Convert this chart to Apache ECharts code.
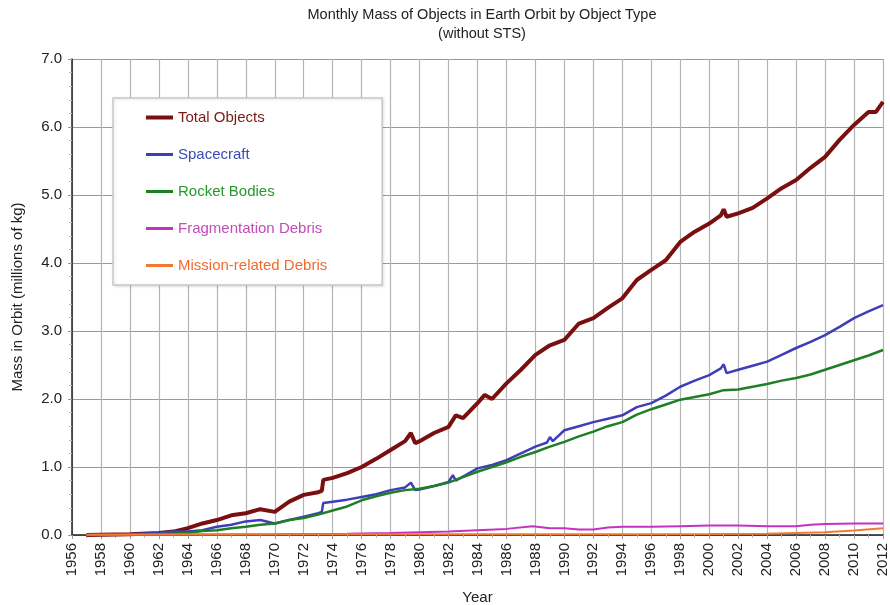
<!DOCTYPE html>
<html>
<head>
<meta charset="utf-8">
<title>Monthly Mass of Objects in Earth Orbit</title>
<script src="https://cdn.jsdelivr.net/npm/echarts@6/dist/echarts.min.js"></script>
<style>
  html, body { margin: 0; padding: 0; background: #fff; }
  #chart { width: 890px; height: 605px; }
</style>
</head>
<body>
<div id="chart"></div>
<script>
// values, [year, millions of kg]
var totalObjects = [
  [1957, 0], [1958, 0.005], [1960, 0.01], [1962, 0.03], [1963, 0.05], [1964, 0.10], [1965, 0.17],
  [1966, 0.22], [1967, 0.29], [1968, 0.32], [1969, 0.38], [1970, 0.34], [1971, 0.49], [1972, 0.59],
  [1973, 0.63], [1973.25, 0.65], [1973.35, 0.81], [1974, 0.84], [1975, 0.91], [1976, 1.0], [1977, 1.12],
  [1978, 1.25], [1979, 1.38], [1979.4, 1.50], [1979.7, 1.35], [1980, 1.38], [1981, 1.5], [1982, 1.59],
  [1982.5, 1.76], [1983, 1.72], [1984, 1.94], [1984.5, 2.06], [1985, 2.0], [1986, 2.23], [1987, 2.43],
  [1988, 2.65], [1989, 2.79], [1990, 2.87], [1991, 3.11], [1992, 3.19], [1993, 3.34], [1994, 3.48],
  [1995, 3.75], [1996, 3.9], [1997, 4.04], [1998, 4.31], [1999, 4.46], [2000, 4.58], [2000.8, 4.70],
  [2001, 4.79], [2001.2, 4.68], [2002, 4.73], [2003, 4.81], [2004, 4.95], [2005, 5.10], [2006, 5.22],
  [2007, 5.40], [2008, 5.56], [2009, 5.81], [2010, 6.03], [2011, 6.22], [2011.5, 6.22], [2012, 6.37]
];
var spacecraft = [
  [1957, 0], [1960, 0.01], [1962, 0.03], [1963, 0.05], [1964, 0.05], [1965, 0.07], [1966, 0.12],
  [1967, 0.15], [1968, 0.20], [1969, 0.22], [1970, 0.17], [1971, 0.22], [1972, 0.27], [1973, 0.32],
  [1973.25, 0.34], [1973.35, 0.47], [1974, 0.49], [1975, 0.52], [1976, 0.56], [1977, 0.6], [1978, 0.66],
  [1979, 0.70], [1979.4, 0.77], [1979.7, 0.66], [1980, 0.67], [1981, 0.72], [1982, 0.78], [1982.3, 0.88],
  [1982.5, 0.80], [1983, 0.86], [1984, 0.98], [1985, 1.03], [1986, 1.10], [1987, 1.2], [1988, 1.30],
  [1988.8, 1.36], [1989, 1.44], [1989.2, 1.38], [1990, 1.54], [1991, 1.60], [1992, 1.66], [1993, 1.71],
  [1994, 1.76], [1995, 1.88], [1996, 1.94], [1997, 2.05], [1998, 2.18], [1999, 2.27], [2000, 2.35],
  [2000.8, 2.45], [2001, 2.51], [2001.2, 2.38], [2002, 2.43], [2003, 2.49], [2004, 2.55], [2005, 2.65],
  [2006, 2.75], [2007, 2.84], [2008, 2.94], [2009, 3.06], [2010, 3.19], [2011, 3.29], [2012, 3.38]
];
var rocketBodies = [
  [1957, 0], [1960, 0.005], [1962, 0.01], [1963, 0.02], [1964, 0.03], [1965, 0.06], [1966, 0.07],
  [1967, 0.10], [1968, 0.12], [1969, 0.15], [1970, 0.17], [1971, 0.22], [1972, 0.25], [1973, 0.30],
  [1974, 0.36], [1975, 0.42], [1976, 0.51], [1977, 0.57], [1978, 0.62], [1979, 0.66], [1980, 0.68],
  [1981, 0.72], [1982, 0.77], [1983, 0.85], [1984, 0.93], [1985, 1.0], [1986, 1.07], [1987, 1.15],
  [1988, 1.22], [1989, 1.30], [1990, 1.37], [1991, 1.45], [1992, 1.52], [1993, 1.6], [1994, 1.66],
  [1995, 1.77], [1996, 1.85], [1997, 1.92], [1998, 1.99], [1999, 2.03], [2000, 2.07], [2001, 2.13],
  [2002, 2.14], [2003, 2.18], [2004, 2.22], [2005, 2.27], [2006, 2.31], [2007, 2.36], [2008, 2.43],
  [2009, 2.5], [2010, 2.57], [2011, 2.64], [2012, 2.72]
];
var fragmentationDebris = [
  [1957, 0], [1961, 0.002], [1965, 0.005], [1970, 0.01], [1975, 0.02], [1978, 0.03], [1980, 0.04],
  [1982, 0.05], [1984, 0.07], [1986, 0.09], [1987.8, 0.13], [1989, 0.10], [1990, 0.10], [1991, 0.08],
  [1992, 0.08], [1993, 0.11], [1994, 0.12], [1996, 0.12], [1998, 0.13], [2000, 0.14], [2002, 0.14],
  [2004, 0.13], [2006, 0.13], [2007, 0.15], [2008, 0.16], [2010, 0.17], [2012, 0.17]
];
var missionDebris = [
  [1957, 0.005], [1965, 0.01], [1975, 0.01], [1985, 0.012], [1995, 0.012], [2000, 0.015],
  [2004, 0.02], [2006, 0.03], [2008, 0.04], [2010, 0.065], [2012, 0.10]
];

var seriesNames = ['Total Objects', 'Spacecraft', 'Rocket Bodies', 'Fragmentation Debris', 'Mission-related Debris'];
var seriesData = [totalObjects, spacecraft, rocketBodies, fragmentationDebris, missionDebris];
var lineColors = ['#7a0f0f', '#3e3eb8', '#1f7f24', '#c433c0', '#f07a32'];
var textColors = ['#7a1a12', '#3a4cb0', '#249a2a', '#c24cb8', '#f26a2c'];
var lineWidths = [4, 2.5, 2.5, 2, 2];

var font = 'Liberation Sans, Arial, sans-serif';
var chart = echarts.init(document.getElementById('chart'));

var series = seriesNames.map(function (name, i) {
  return {
    name: name,
    type: 'line',
    data: seriesData[i],
    symbol: 'none',
    lineStyle: { color: lineColors[i], width: lineWidths[i] },
    itemStyle: { color: lineColors[i] },
    emphasis: { disabled: true }
  };
});

// legend swatch: a plain bar, thicker for the total
function swatch(h) {
  return 'path://M0,0 L27,0 L27,' + h + ' L0,' + h + ' Z';
}

chart.setOption({
  animation: false,
  title: {
    text: 'Monthly Mass of Objects in Earth Orbit by Object Type\n(without STS)',
    left: 477,
    top: 0,
    textAlign: 'center',
    textStyle: { fontFamily: font, fontSize: 14.5, fontWeight: 'normal', color: '#222', lineHeight: 19 }
  },
  legend: {
    orient: 'vertical',
    left: 113,
    top: 98,
    padding: [12, 55, 12, 33],
    itemWidth: 27,
    itemHeight: 14,
    itemGap: 22,
    symbolKeepAspect: true,
    backgroundColor: '#fff',
    borderColor: '#c8c8c8',
    borderWidth: 1.5,
    shadowColor: 'rgba(0,0,0,0.12)',
    shadowBlur: 3,
    shadowOffsetX: 1,
    shadowOffsetY: 1,
    textStyle: { fontFamily: font, fontSize: 15 },
    data: seriesNames.map(function (name, i) {
      return {
        name: name,
        icon: swatch(i === 0 ? 4 : 3),
        itemStyle: { color: lineColors[i] },
        textStyle: { color: textColors[i] }
      };
    })
  },
  grid: { left: 72, right: 7, top: 59, bottom: 70, outerBoundsMode: 'none' },
  xAxis: {
    type: 'value',
    min: 1956,
    max: 2012,
    interval: 2,
    name: 'Year',
    nameLocation: 'middle',
    nameGap: 55,
    nameTextStyle: { fontFamily: font, fontSize: 15, color: '#222' },
    axisLine: { show: true, lineStyle: { color: '#222', width: 1.5 } },
    axisTick: { show: true, length: 4, lineStyle: { color: '#999' } },
    minorTick: { show: true, splitNumber: 2, length: 3, lineStyle: { color: '#bbb' } },
    axisLabel: {
      rotate: 90,
      margin: 8,
      fontFamily: font,
      fontSize: 15,
      color: '#222',
      formatter: function (v) { return String(v); }
    },
    splitLine: { show: true, lineStyle: { color: '#b4b4b4', width: 1.2 } }
  },
  yAxis: {
    type: 'value',
    min: 0,
    max: 7,
    interval: 1,
    name: 'Mass in Orbit (millions of kg)',
    nameLocation: 'middle',
    nameGap: 47,
    nameTextStyle: { fontFamily: font, fontSize: 15, color: '#222' },
    axisLine: { show: true, lineStyle: { color: '#222', width: 1.5 } },
    axisTick: { show: true, length: 4, lineStyle: { color: '#999' } },
    minorTick: { show: true, splitNumber: 5, length: 3, lineStyle: { color: '#bbb' } },
    axisLabel: {
      margin: 10,
      fontFamily: font,
      fontSize: 15,
      color: '#222',
      formatter: function (v) { return v.toFixed(1); }
    },
    splitLine: { show: true, lineStyle: { color: '#9a9a9a', width: 1.2 } }
  },
  series: series
});
</script>
</body>
</html>
